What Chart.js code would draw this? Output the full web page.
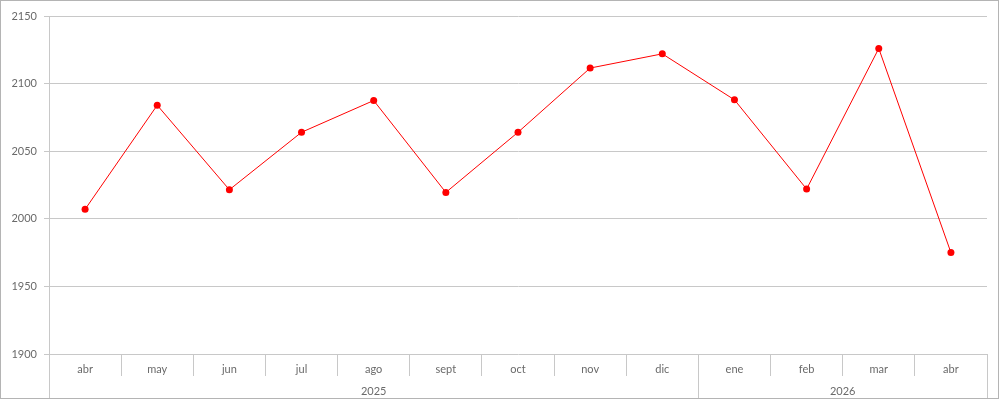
<!DOCTYPE html>
<html><head><meta charset="utf-8">
<script src="https://cdn.jsdelivr.net/npm/chart.js@4"></script>
<style>html,body{margin:0;padding:0;background:#fff;}canvas{display:block;}</style>
</head><body>
<canvas id="c" width="1000" height="415"></canvas>
<script>
const months = ['abr','may','jun','jul','ago','sept','oct','nov','dic','ene','feb','mar','abr'];
const yearLabels = ['2025','2026'];
const yearStart = [0, 9];
const yearEnd = [8, 12];
const values = [2007, 2084, 2021.5, 2064, 2087.5, 2019.5, 2064, 2111.5, 2122, 2088, 2022, 2126, 1975];
const yMin = 1900, yMax = 2150, yStep = 50;

const gridColor = '#c8c8c8';
const textColor = '#6a6a6a';
const fontFamily = 'Lato, "Open Sans", sans-serif';

const yearRow = {
  id: 'yearRow',
  afterDraw(chart) {
    const x = chart.scales.x, ctx = chart.ctx;
    const half = (x.getPixelForValue(1) - x.getPixelForValue(0)) / 2;
    const top = x.top, bottom = 398;
    ctx.save();
    ctx.strokeStyle = gridColor;
    ctx.lineWidth = 1;
    ctx.fillStyle = textColor;
    ctx.font = '11px ' + fontFamily;
    ctx.textAlign = 'center';
    ctx.textBaseline = 'middle';
    yearLabels.forEach((lab, i) => {
      const l = x.getPixelForValue(yearStart[i]) - half;
      const r = x.getPixelForValue(yearEnd[i]) + half;
      [l, r].forEach(px => {
        const p = Math.round(px) + 0.5;
        ctx.beginPath(); ctx.moveTo(p, top); ctx.lineTo(p, bottom); ctx.stroke();
      });
      ctx.fillText(lab, (l + r) / 2, 391);
    });
    ctx.strokeStyle = '#b4b4b4';
    ctx.strokeRect(0.5, 0.5, chart.width - 2, bottom);
    ctx.restore();
  }
};

new Chart(document.getElementById('c'), {
  type: 'line',
  data: {
    labels: months,
    datasets: [{
      data: values,
      borderColor: '#ff0000',
      backgroundColor: '#ff0000',
      borderWidth: 1,
      pointRadius: 3.5,
      pointHoverRadius: 3.5,
      pointBorderWidth: 0,
      tension: 0
    }]
  },
  options: {
    responsive: false,
    animation: false,
    devicePixelRatio: 1,
    layout: { padding: { left: 0, right: 13, top: 16, bottom: 0 } },
    plugins: { legend: { display: false }, tooltip: { enabled: false } },
    scales: {
      x: {
        offset: true,
        grid: { offset: true, drawOnChartArea: false, drawTicks: true, tickLength: 22, color: gridColor },
        border: { display: false },
        ticks: { color: textColor, font: { family: fontFamily, size: 11 }, padding: -13, maxRotation: 0, autoSkip: false },
        afterFit(scale) { scale.height = 61; }
      },
      y: {
        min: yMin, max: yMax,
        ticks: { stepSize: yStep, color: textColor, font: { family: fontFamily, size: 11 }, padding: 7,
          callback: (v) => String(v) },
        grid: { color: gridColor, tickLength: 5 },
        border: { color: gridColor },
        afterFit(scale) { scale.width = 49; }
      }
    }
  },
  plugins: [yearRow]
});
</script>
</body></html>
